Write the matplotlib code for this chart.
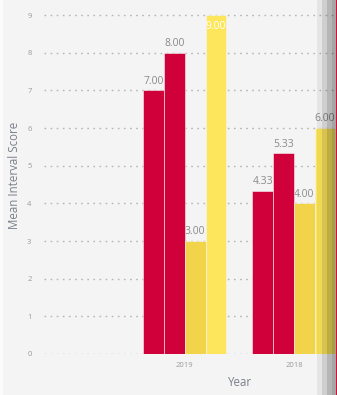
import numpy as np
import matplotlib
matplotlib.use('Agg')
import matplotlib.pyplot as plt
from matplotlib.patches import Rectangle

plt.rcParams['font.family'] = ['Open Sans', 'DejaVu Sans']

years = ['2019', '2018']
series_a = [7.00, 4.33]
series_b = [8.00, 5.33]
series_c = [3.00, 4.00]
series_d = [9.00, 6.00]
series_colors = ['#d0003a', '#d0003a', '#f2d44b', '#fde65c']

W, H = 337, 395
fig = plt.figure(figsize=(W / 100, H / 100), dpi=100)
fig.patch.set_facecolor('#f4f4f4')

# axes in pixel terms: left 44, zero line at y=354, runs past the right edge
ax = fig.add_axes([44 / W, (H - 354) / H, (W - 44) / W, 354 / H])
ax.set_facecolor('#f4f4f4')

x = np.arange(len(years))
w = 0.19
series = [series_a, series_b, series_c, series_d]
for i, vals in enumerate(series):
    off = (i - 1.5) * w
    bars = ax.bar(x + off, vals, w, color=series_colors[i], edgecolor='#f4f4f4',
                  linewidth=0.4, zorder=3)
    for b, v in zip(bars, vals):
        cx = b.get_x() + b.get_width() / 2
        if v >= 8.9:
            ax.text(cx, v - 0.15, '{:.2f}'.format(v), ha='center', va='top',
                    fontsize=7.5, color='white', zorder=4)
        else:
            ax.text(cx, v + 0.1, '{:.2f}'.format(v), ha='center', va='bottom',
                    fontsize=7.5, color='#8a8a8a', zorder=2)

ax.set_xlim(-1.29, 1.395)
ax.set_ylim(0, 9.4)
ax.set_yticks(range(10))
ax.set_xticks(x)
ax.set_xticklabels(years)
ax.grid(axis='y', color='#b5b5b5', linestyle=(0, (1.2, 3.2)), linewidth=1, zorder=0)
ax.tick_params(axis='both', length=0, labelsize=5.5, colors='#9a9a9a')
ax.tick_params(axis='y', pad=9)
ax.tick_params(axis='x', pad=6)
for s in ax.spines.values():
    s.set_visible(False)

fig.text(15 / W, 1 - 175 / H, 'Mean Interval Score', rotation=90, ha='center',
         va='center', fontsize=8.3, color='#7a7f8a')
fig.text(240 / W, 1 - 382 / H, 'Year', ha='center', va='center', fontsize=8.3,
         color='#7a7f8a')

# shaded strip and red border on the right
bands = [(317, 322, 0.06), (322, 327, 0.15), (327, 332, 0.25), (332, 336, 0.32)]
for x0, x1, a in bands:
    fig.patches.append(Rectangle((x0 / W, 0), (x1 - x0) / W, 1, transform=fig.transFigure,
                                 facecolor='black', alpha=a, edgecolor='none', zorder=10))
fig.patches.append(Rectangle((336 / W, 0), 1 / W, 1, transform=fig.transFigure,
                             facecolor='#d0103a', edgecolor='none', zorder=11))
fig.patches.append(Rectangle((0, 0), 3 / W, 1, transform=fig.transFigure,
                             facecolor='#fbfbfb', edgecolor='none', zorder=11))

fig.savefig('out.png', dpi=100, facecolor=fig.get_facecolor())
